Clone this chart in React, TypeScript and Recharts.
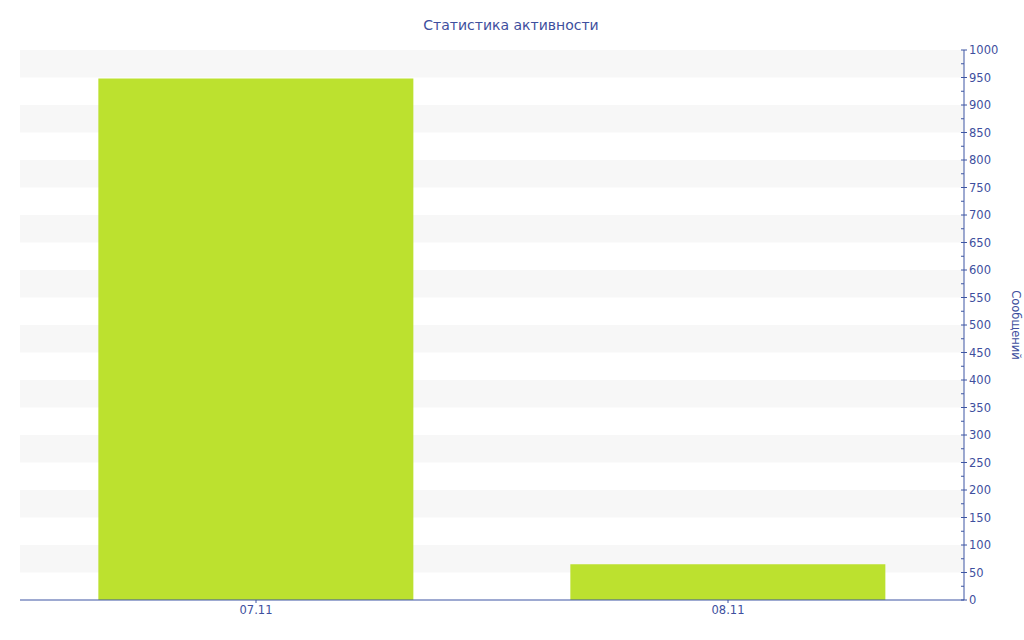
import React from 'react';
import { BarChart, Bar, XAxis, YAxis, ReferenceArea } from 'recharts';

const days = ['07.11', '08.11'];
const messages = [948, 65];
const yTicks = [0, 25, 50, 75, 100, 125, 150, 175, 200, 225, 250, 275, 300, 325, 350, 375, 400, 425, 450, 475, 500, 525, 550, 575, 600, 625, 650, 675, 700, 725, 750, 775, 800, 825, 850, 875, 900, 925, 950, 975, 1000];
const bandStarts = [50, 150, 250, 350, 450, 550, 650, 750, 850, 950];

const BLUE = '#3d55a3';
const TEXT = '#3e4f9e';
const FONT = '"DejaVu Sans", Verdana, sans-serif';

const data = days.map((d, i) => ({ day: d, value: messages[i] }));

const RightTick: React.FC<any> = ({ x, y, payload }) => {
  const v = payload.value as number;
  const major = v % 50 === 0;
  const axisX = x - 5;
  return (
    <g>
      <line x1={axisX - 3} x2={major ? axisX + 3 : axisX} y1={y} y2={y} stroke={BLUE} strokeWidth={1} />
      {major && (
        <text x={x} y={y} dy={4} fill={TEXT} fontSize={11.5} fontFamily={FONT} textAnchor="start">
          {v}
        </text>
      )}
    </g>
  );
};

const App: React.FC = () => {
  return (
    <div style={{ position: 'fixed', left: 0, top: 0, width: 1024, height: 640, background: '#fff' }}>
      <div
        style={{
          position: 'absolute',
          top: 17,
          left: 0,
          width: 1022,
          textAlign: 'center',
          fontFamily: FONT,
          fontSize: 14,
          color: TEXT,
        }}
      >
        Статистика активности
      </div>
      <BarChart width={1024} height={640} data={data} margin={{ top: 50, right: 0, bottom: 0, left: 20 }} barCategoryGap="16.6%">
        {bandStarts.map((s) => (
          <ReferenceArea key={s} yAxisId="r" y1={s} y2={s + 50} fill="#f7f7f7" fillOpacity={1} stroke="none" ifOverflow="visible" />
        ))}
        <XAxis
          dataKey="day"
          height={40}
          axisLine={{ stroke: BLUE }}
          tickLine={{ stroke: BLUE }}
          tickSize={3}
          tickMargin={3}
          tick={{ fill: TEXT, fontSize: 11.5, fontFamily: FONT }}
        />
        <YAxis
          yAxisId="r"
          orientation="right"
          width={60}
          domain={[0, 1000]}
          ticks={yTicks}
          interval={0}
          axisLine={{ stroke: BLUE }}
          tickLine={false}
          tickSize={3}
          tickMargin={2}
          tick={<RightTick />}
          label={{
            value: 'Сообщений',
            angle: 90,
            position: 'insideRight',
            offset: 8,
            textAnchor: 'middle',
            fill: TEXT,
            fontSize: 11.5,
            fontFamily: FONT,
          }}
        />
        <Bar yAxisId="r" dataKey="value" fill="#bce12f" isAnimationActive={false} />
      </BarChart>
    </div>
  );
};

export default App;
